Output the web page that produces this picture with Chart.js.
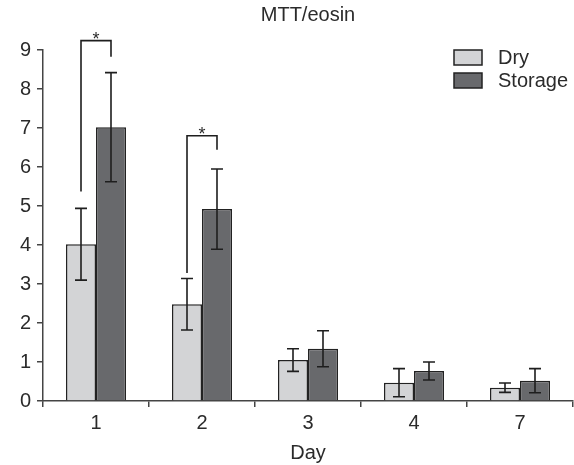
<!DOCTYPE html>
<html>
<head>
<meta charset="utf-8">
<script src="https://cdn.jsdelivr.net/npm/chart.js@4"></script>
<style>
  html, body { margin: 0; padding: 0; background: #fff; }
  #wrap { width: 574px; height: 465px; }
</style>
</head>
<body>
<div id="wrap"><canvas id="mttChart"></canvas></div>
<script>
const chartTitle = 'MTT/eosin';
const days = ['1', '2', '3', '4', '7'];
const dryValues = [4.02, 2.48, 1.05, 0.47, 0.34];
const dryErrors = [0.92, 0.66, 0.29, 0.36, 0.12];
const storageValues = [7.02, 4.92, 1.34, 0.77, 0.52];
const storageErrors = [1.40, 1.03, 0.46, 0.23, 0.31];
// significance brackets: day index, left arm bottom, top, right arm bottom
const bracketDays = [0, 1];
const bracketLeft = [5.37, 3.28];
const bracketTop = [9.24, 6.80];
const bracketRight = [8.83, 6.44];

const FONT = "'Liberation Sans', Arial, sans-serif";
const INK = '#2b2b2b';

const errorBars = {
    id: 'errorBars',
    afterDatasetsDraw(chart) {
        const c = chart.ctx;
        const y = chart.scales.y;
        const errs = [dryErrors, storageErrors];
        c.save();
        c.strokeStyle = '#1e1e1e';
        c.lineWidth = 1.6;
        chart.data.datasets.forEach((ds, di) => {
            chart.getDatasetMeta(di).data.forEach((bar, i) => {
                const v = ds.data[i];
                const top = y.getPixelForValue(v + errs[di][i]);
                const bot = y.getPixelForValue(Math.max(0, v - errs[di][i]));
                c.beginPath();
                c.moveTo(bar.x, top); c.lineTo(bar.x, bot);
                c.moveTo(bar.x - 6, top); c.lineTo(bar.x + 6, top);
                c.moveTo(bar.x - 6, bot); c.lineTo(bar.x + 6, bot);
                c.stroke();
            });
        });
        // brackets
        bracketDays.forEach((d, k) => {
            const a = chart.getDatasetMeta(0).data[d].x;
            const b = chart.getDatasetMeta(1).data[d].x;
            const t = y.getPixelForValue(bracketTop[k]);
            c.beginPath();
            c.moveTo(a, y.getPixelForValue(bracketLeft[k]));
            c.lineTo(a, t);
            c.lineTo(b, t);
            c.lineTo(b, y.getPixelForValue(bracketRight[k]));
            c.stroke();
            c.fillStyle = INK;
            c.font = '18px ' + FONT;
            c.textAlign = 'center';
            c.textBaseline = 'alphabetic';
            c.fillText('*', (a + b) / 2, t + 4);
        });
        c.restore();
    }
};

const titleAndLegend = {
    id: 'titleAndLegend',
    afterDraw(chart) {
        const c = chart.ctx;
        const area = chart.chartArea;
        c.save();
        c.fillStyle = INK;
        c.font = '20px ' + FONT;
        c.textAlign = 'center';
        c.textBaseline = 'middle';
        c.fillText(chartTitle, (area.left + area.right) / 2, 15);

        c.textAlign = 'left';
        chart.data.datasets.forEach((ds, i) => {
            const top = 50 + i * 23;
            c.fillStyle = ds.backgroundColor;
            c.fillRect(454, top, 28, 15);
            c.strokeStyle = '#222';
            c.lineWidth = 1.5;
            c.strokeRect(454, top, 28, 15);
            c.fillStyle = INK;
            c.fillText(ds.label, 498, top + 8);
        });
        c.restore();
    }
};

new Chart(document.getElementById('mttChart'), {
    type: 'bar',
    data: {
        labels: days,
        datasets: [
            { label: 'Dry', data: dryValues, backgroundColor: '#d3d4d6', borderColor: '#222', borderWidth: 1.5,
              barPercentage: 1, categoryPercentage: 0.566 },
            { label: 'Storage', data: storageValues, backgroundColor: '#68696c', borderColor: '#222', borderWidth: 1.5,
              barPercentage: 1, categoryPercentage: 0.566 }
        ]
    },
    options: {
        responsive: true,
        maintainAspectRatio: false,
        animation: false,
        layout: { padding: { top: 50, right: 1, bottom: 0 } },
        plugins: {
            legend: { display: false },
            tooltip: { enabled: false },
            title: { display: false }
        },
        scales: {
            x: {
                afterFit(s) { s.height = 64; },
                grid: { offset: true, drawOnChartArea: false, drawTicks: true, tickLength: 6, color: '#444', lineWidth: 1.5 },
                border: { color: '#444', width: 1.5 },
                ticks: { color: INK, padding: 4, font: { family: FONT, size: 20 } },
                title: { display: true, text: 'Day', color: INK, padding: { top: 0, bottom: 0 },
                         font: { family: FONT, size: 20 } }
            },
            y: {
                min: 0,
                max: 9,
                afterFit(s) { s.width = 43; },
                grid: { drawOnChartArea: false, drawTicks: true, tickLength: 6, color: '#444', lineWidth: 1.5 },
                border: { color: '#444', width: 1.5 },
                ticks: { stepSize: 1, color: INK, padding: 6, font: { family: FONT, size: 20 } }
            }
        }
    },
    plugins: [errorBars, titleAndLegend]
});
</script>
</body>
</html>
